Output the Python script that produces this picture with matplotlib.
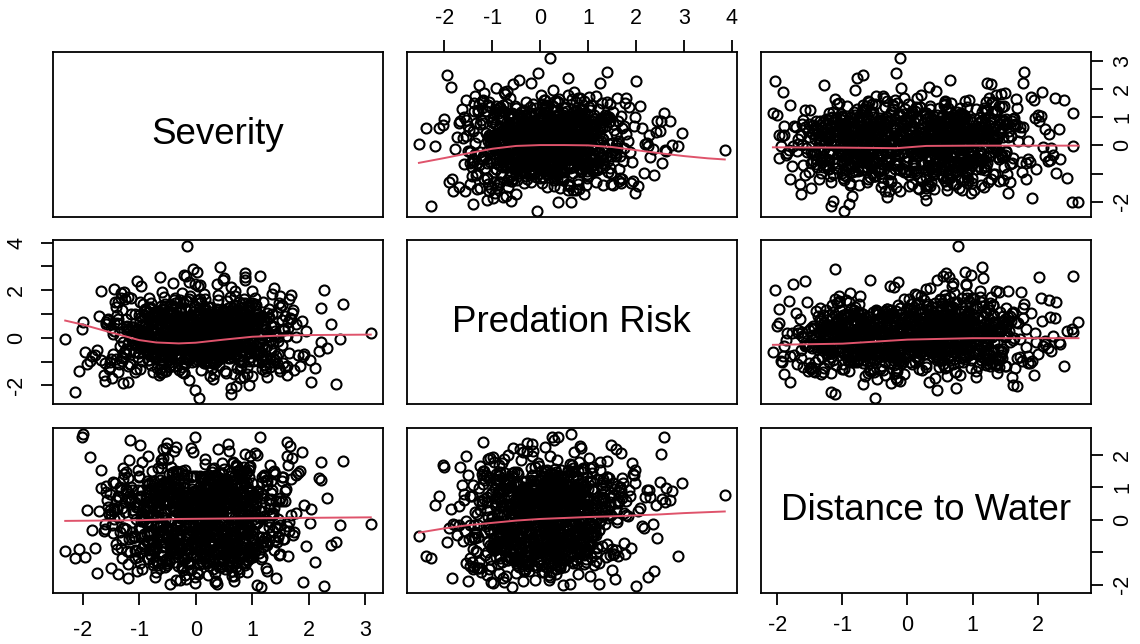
import numpy as np
import matplotlib.pyplot as plt

plt.rcParams['font.family'] = ['Liberation Sans', 'DejaVu Sans']

severity = [
    -0.15, 3.10, -2.31, 0.05, -2.00, -2.02, -0.01, 1.14, 0.42, -0.73, 1.21, 0.08, -0.36, 0.67, -1.12,
    0.25, -0.58, 1.63, 0.91, -0.24, 0.13, -1.45, 0.56, -0.87, 0.34, 1.02, -0.11, -0.62, 0.79, 2.05,
    -0.43, 0.18, -1.03, 0.61, 1.37, -0.29, -0.77, 0.02, 0.48, -1.68, 0.93, -0.05, 0.27, 1.58, -0.51,
    0.71, -0.92, 0.15, -0.34, 1.15, 0.44, -1.21, 0.86, -0.18, 2.33, -0.66, 0.37, -0.08, 1.29, -1.36,
    0.52, -0.47, 0.95, -1.84, 0.21, 0.63, -0.31, 1.71, -0.95, 0.09, 0.38, -0.56, 1.08, -0.14, 0.83,
    -1.07, 0.29, 1.46, -0.69, 0.04, 0.58, -0.26, -1.52, 0.75, 0.16, 1.92, -0.82, 0.47, -0.39, 0.99,
    -0.03, 1.26, -0.61, 0.35, -1.27, 0.68, 0.11, -0.45, 2.21, -0.89, 0.54, -0.16, 0.88, -1.96, 0.23,
    1.41, -0.53, 0.07, -0.98, 0.66, 0.31, -0.21, 1.12, -1.15, 0.45, -0.72, 1.84, 0.01, -0.41, 0.59,
    -1.33, 0.82, 0.19, -0.64, 1.53, -0.12, 0.41, -0.85, 0.97, -0.27, 2.49, -1.58, 0.36, 0.73, -0.49,
    0.12, -0.79, 1.19, 0.55, -0.33, -1.74, 0.87, 0.26, -0.07, 1.67, -1.01, 0.49, -0.55, 0.14, 1.33,
    -0.68, 0.39, -1.19, 0.78, 0.06, -0.37, 1.04, -0.84, 0.62, 2.12, -0.22, 0.32, -1.41, 0.92, -0.09,
    0.46, -1.62, 0.24, 1.49, -0.57, 0.81, -0.19, 0.03, -1.09, 0.69, 1.78, -0.44, 0.17, -0.75, 1.06,
    -0.28, 0.57, -2.14, 0.33, 0.94, -0.63, 1.31, -0.02, 0.51, -0.93, 0.22, 1.62, -0.35, 0.74, -1.24,
    0.85, -0.13, 0.43, -1.49, 1.11, -0.71, 0.28, 2.61, -0.46, 0.64, -0.04, -1.06, 0.89, 0.19, -0.59,
    1.24, -0.38, 0.72, -0.81, 0.11, 1.88, -1.29, 0.53, -0.17, 0.36, -0.97, 1.44, 0.08, -0.52, 0.77,
    -1.71, 0.47, 0.96, -0.25, 0.61, -0.88, 1.17, 0.04, -0.42, 2.27, -0.65, 0.29, -1.13, 0.84, 0.15,
    -0.06, 1.55, -0.74, 0.38, -1.38, 0.71, 0.13, -0.32, 1.03, -0.99, 0.58, 1.96, -0.20, 0.44, -1.57,
    0.93, -0.48, 0.26, -0.67, 1.35, 0.05, -1.18, 0.68, -0.15, 0.42, 1.73, -0.83, 0.20, -0.40, 1.09,
    -0.94, 0.60, -0.23, 1.22, -1.47, 0.34, 0.80, -0.60, 0.10, 2.40, -0.30, 0.65, -1.02, 0.50, -0.12,
    1.50, -0.70, 0.31, -1.88, 0.87, -0.09, 0.55, 1.27, -0.53, 0.18, -0.86, 1.66, -0.36, 0.76, -1.23,
    0.27, -0.44, 1.13, 0.62, -0.96, 0.07, 1.81, -0.27, 0.40, -1.34, 0.90, -0.58, 0.22, 1.39, -0.10,
    -0.78, 0.52, -1.55, 0.98, 0.14, -0.35, 2.03, -0.63, 0.71, -0.05, 1.18, -1.11, 0.37, -0.47, 0.83,
    0.09, -1.26, 0.66, 1.57, -0.21, 0.45, -0.80, 1.00, -1.67, 0.24, 0.57, -0.39, 1.30, -0.02, 0.93,
    -0.55, 2.18, -0.91, 0.35, 0.02, -1.44, 0.74, -0.16, 1.07, 0.48, -0.73, 0.19, 1.61, -1.08, 0.30,
    0.64, -0.24, -1.92, 0.86, 0.12, 1.43, -0.61, 0.39, -0.97, 0.78, 0.01, -0.50, 1.20, -1.30, 0.55,
    -0.13, 0.97, -0.66, 1.74, 0.28, -1.04, 0.50, -0.30, 0.81, 2.22, -0.84, 0.15, -1.60, 0.67, 0.04,
    1.36, -0.42, 0.23, -0.76, 1.05, -1.20, 0.59, -0.07, 0.43, 1.90, -0.54, 0.88, -0.20, -1.39, 0.73,
    -0.33, 0.17, 1.48, -0.87, 0.36, -0.14, 0.95, -1.50, 0.62, 0.06, -0.68, 1.25, -0.01, 0.50, -1.17,
    0.79, -0.59, 0.10, 1.68, -0.25, -1.79, 0.47, 0.91, -0.43, 0.32, 2.55, -0.95, 0.60, -0.18, 1.15,
    -0.71, 0.26, -1.00, 0.84, 0.13, 1.32, -0.49, 0.70, -2.07, 0.40, -0.11, 1.02, -0.62, 0.20, 0.99,
    0.31, -0.45, 0.12, 0.78, -0.22, 0.54, -0.67, 0.05, 0.93, -0.38, 0.27, -0.11, 0.62, -0.84, 0.41,
    -0.06, 0.71, -0.52, 0.19, 1.04, -0.29, 0.47, -0.73, 0.36, 0.09, -0.41, 0.86, -0.17, 0.58, -0.95,
    0.23, -0.33, 0.69, -0.08, 0.44, -0.61, 1.12, 0.02, -0.26, 0.75, -0.49, 0.14, 0.97, -0.14, 0.35,
    -0.79, 0.52, 0.07, -0.36, 0.83, -0.03, 0.29, -0.58, 0.64, 1.21, -0.19, 0.39, -0.88, 0.16, 0.57,
    0.01, -0.47, 0.92, 0.33, -0.12, 0.66, -0.70, 0.21, 0.48, -0.31, 1.08, -0.04, 0.73, -0.55, 0.11,
    0.45, -0.23, 0.80, -0.64, 0.26, 0.03, -0.39, 0.95, -0.10, 0.59, -0.82, 0.37, 0.18, -0.27, 0.68,
    -0.44, 0.13, 1.15, -0.16, 0.50, -0.57, 0.32, 0.87, -0.35, 0.06, 0.61, -0.91, 0.24, 0.42, -0.02,
    0.76, -0.50, 0.17, -0.21, 0.99, 0.38, -0.66, 0.10, 0.55, -0.13, 0.28, 1.02, -0.42, 0.67, -0.07,
    0.34, -0.76, 0.49, 0.08, -0.30, 0.72, -0.48, 0.20, 0.88, -0.18, 0.43, -0.60, 1.18, 0.00, -0.37,
    0.58, -0.09, 0.25, -0.85, 0.63, 0.15, -0.25, 0.82, -0.54, 0.35, 0.04, -0.40, 0.90, -0.68, 0.47,
    -0.20, 0.66, -0.05, 0.40, -0.72, 1.06, 0.12, -0.46, 0.53, 0.22, -0.15, 0.79, -0.33, 0.30, -0.98,
    0.84, 0.07, -0.43, 0.60, -0.11, 0.37, -0.62, 0.96, 0.19, -0.28, 0.70, -0.07, 0.46, -0.50, 1.13,
    -0.24, 0.51, 0.03, -0.69, 0.77, 0.27, -0.34, 0.14, 0.89, -0.44, 0.56, -0.12, 0.33, -0.81, 0.65,
    0.10, -0.56, 0.74, -0.01, 0.42, -0.37, 1.01, 0.21, -0.63, 0.48, -0.19, 0.85, 0.06, -0.30, 0.59,
    -0.71, 0.29, 0.94, -0.24, 0.16, -0.49, 0.68, 0.39, -0.09, 0.81, -0.58, 0.02, 0.53, -0.35, 1.19,
    0.43, -0.14, 0.61, -0.77, 0.25, 0.09, -0.42, 0.72, -0.26, 0.50, 0.98, -0.64, 0.31, -0.05, 0.67,
    -0.39, 0.80, 0.18, -0.53, 0.45, -0.17, 0.91, 0.04, -0.75, 0.36, 0.63, -0.22, 0.12, -0.46, 0.76,
    0.57, -0.32, 0.26, 0.97, -0.60, 0.14, -0.08, 0.70, -0.40, 0.49, -0.89, 0.32, 1.09, -0.18, 0.22,
    -0.03, 0.62, -0.51, 0.38, 0.85, -0.27, 0.07, -0.67, 0.55, 0.19, -0.36, 0.78, -0.13, 0.44, -0.82,
    0.69, -0.21, 0.13, -0.45, 1.05, 0.30, -0.59, 0.47, -0.06, 0.83, -0.31, 0.20, 0.60, -0.74, 0.37,
    0.62, -1.14, 0.27, 1.31, -0.48, 0.85, -0.93, 0.08, 1.56, -0.66, 0.41, -1.37, 0.99, -0.21, 0.53,
    -0.81, 1.18, -0.34, 0.72, -1.52, 0.16, 1.04, -0.59, 0.37, -1.06, 1.43, -0.12, 0.64, -0.88, 0.22,
    1.27, -0.43, 0.91, -1.23, 0.05, 0.76, -0.71, 1.62, -0.26, 0.48, -1.45, 0.33, 1.09, -0.54, -0.02,
    0.58, -0.97, 1.35, -0.18, 0.82, -1.61, 0.29, 1.15, -0.77, 0.12, 0.69, -1.29, 0.44, 1.48, -0.39,
    -0.65, 0.95, -1.08, 0.19, 1.22, -0.31, 0.67, -1.41, 0.51, 1.77, -0.84, 0.03, 0.88, -0.51, 1.11,
    -1.17, 0.36, 0.79, -0.27, 1.39, -0.74, 0.14, 1.02, -1.33, 0.60, -0.09, 1.26, -0.62, 0.43, -1.00,
    0.90, -0.46, 1.53, -0.86, 0.25, 0.71, -1.20, 0.39, 1.19, -0.35, -0.78, 0.97, 0.10, -1.50, 0.63,
    -0.23, 1.08, -0.69, 0.47, -1.11, 1.66, 0.21, -0.42, 0.84, -0.96, 0.31, 1.34, -0.58, 0.07, -1.26,
    1.00, -0.15, 0.55, -1.38, 0.74, 1.21, -0.52, 0.18, -0.91, 1.45, -0.30, 0.66, -1.03, 0.94, 0.28,
    -0.72, 0.40, 1.29, -0.60, 0.13, -1.19, 0.86, 0.46, -0.38, 1.58, -0.80, 0.24, 1.07, -1.47, 0.52,
    0.35, -1.02, 0.83, -0.14, 1.41, -0.67, 0.57, -1.31, 0.20, 0.99, -0.45, 1.69, -0.99, 0.11, 0.73,
    -0.56, 1.24, -0.28, 0.65, -1.58, 0.42, 1.13, -0.83, 0.01, 0.77, -1.14, 0.30, 1.37, -0.37, 0.89,
    -1.09, 0.15, 0.96, -0.49, 1.50, -0.76, 0.26, -1.24, 0.68, 1.16, -0.19, 0.50, -0.94, 1.30, -0.44,
    0.81, -1.34, 0.38, 1.05, -0.63, 0.09, -1.07, 1.44, 0.56, -0.24, 0.92, -1.42, 0.17, 0.70, -0.70,
    1.18, -0.33, -0.89, 0.61, 1.60, -0.53, 0.23, -1.16, 0.87, 0.04, -0.64, 1.25, -1.28, 0.45, 0.98,
    -0.41, 0.74, -1.21, 1.10, 0.32, -0.85, 1.46, -0.10, 0.59, -1.36, 0.80, 0.19, -0.57, 1.38, -0.92,
    0.49, -0.20, 1.20, -1.05, 0.67, -0.40, 0.06, 1.54, -0.75, 0.37, -1.27, 0.93, -0.13, 0.78, -0.60,
    -1.40, 1.02, 0.26, -0.68, 1.33, -0.16, 0.70, -1.12, 0.47, 1.28, -0.87, 0.12, 0.85, -0.47, 1.63,
    0.16, -0.79, 1.07, -0.36, 0.54, -1.53, 0.92, 0.33, -0.60, 1.17, -1.00, 0.44, -0.25, 1.40, -0.82,
    0.72, -1.18, 0.48, 1.36, -0.43, 0.02, -0.95, 1.00, -0.17, 0.61, -1.30, 1.52, 0.29, -0.69, 0.84,
]

predation = [
    3.85, 0.21, -0.06, -2.53, 0.64, 0.37, 0.25, 2.59, -0.48, 0.92, -1.13, 0.31, 1.47, -0.72, 0.05,
    -0.29, 1.18, 0.66, -1.54, 0.12, -0.83, 2.04, 0.47, -0.15, -1.02, 0.78, 1.61, -0.41, 0.23, -1.87,
    0.95, -0.61, 0.38, 1.29, -0.22, -1.36, 0.71, 0.08, 2.41, -0.94, 0.54, -0.35, 1.06, -1.21, 0.17,
    -0.68, 0.43, 1.83, -0.11, -0.86, 0.61, 0.29, -1.67, 1.15, -0.44, 0.02, 2.27, -0.57, 0.84, -1.09,
    0.36, -0.25, 1.39, -0.78, 0.19, -2.11, 0.67, 1.02, -0.39, 0.14, -0.97, 1.73, 0.48, -0.63, 0.27,
    -1.42, 0.89, 0.04, -0.52, 2.18, -0.18, 0.56, -1.25, 0.33, 1.26, -0.70, 0.11, -0.05, 1.58, -1.60,
    0.73, -0.33, 0.46, -1.06, 1.94, 0.15, -0.81, 0.62, -0.20, 1.11, -1.48, 0.39, 2.53, -0.60, 0.07,
    -0.92, 1.32, 0.26, -0.45, 0.81, -1.74, 0.50, -0.12, 1.67, -0.67, 0.20, -1.17, 0.98, 0.35, -0.27,
    1.89, -0.55, 0.10, -1.32, 0.74, 2.36, -0.88, 0.44, -0.03, 1.21, -1.95, 0.58, -0.36, 0.90, -0.76,
    0.30, -1.15, 1.52, -0.24, 0.67, -0.50, 2.71, -1.01, 0.16, 0.83, -0.64, 1.08, -1.38, 0.42, -0.09,
    -0.47, 0.99, -1.84, 0.28, 1.44, -0.71, 0.55, -0.17, 2.12, -1.27, 0.06, 0.69, -0.90, 1.35, -0.32,
    0.52, -1.56, 0.18, 1.77, -0.42, 0.87, -1.11, 0.24, -0.60, 1.96, 0.01, -0.80, 0.63, -1.43, 1.13,
    -0.14, 0.76, -2.27, 0.40, 1.25, -0.53, 0.09, -0.99, 2.49, -0.31, 0.60, -1.20, 0.94, 0.13, -0.70,
    1.62, -0.38, 0.32, -1.70, 0.85, 0.04, -0.58, 1.40, -1.04, 0.51, 2.87, -0.21, 0.22, -0.83, 1.00,
    -1.29, 0.45, -0.10, 1.19, -0.66, 0.70, -1.90, 0.34, 1.55, -0.46, 0.12, -1.08, 2.22, -0.26, 0.59,
    0.92, -0.74, 0.20, -1.46, 1.71, -0.37, 0.48, -0.95, 0.15, 2.00, -1.58, 0.66, -0.08, 1.30, -0.52,
    -1.00, 0.38, 1.08, -0.30, 0.79, -2.03, 0.53, 0.01, -0.62, 1.48, -0.87, 0.27, 2.62, -0.44, 0.74,
    0.07, -1.22, 0.96, -0.16, 1.85, -0.78, 0.35, -1.51, 0.61, -0.05, 1.17, -0.92, 0.44, 2.30, -0.68,
    0.25, -0.40, 1.50, -1.13, 0.14, 0.82, -0.56, 1.91, -1.35, 0.57, -0.19, 1.03, -0.82, 0.30, -1.78,
    1.28, -0.07, 0.64, -0.98, 2.43, -0.28, 0.41, -1.64, 0.86, 0.11, -0.49, 1.61, -1.19, 0.23, 0.78,
    -0.61, 1.10, -0.20, -2.38, 0.50, 0.97, -0.73, 0.18, 1.79, -0.34, 0.62, -1.05, 0.03, 2.09, -0.89,
    0.37, -1.40, 0.80, 1.36, -0.51, 0.09, -0.93, 2.55, -0.23, 0.68, -1.30, 0.47, 1.22, -0.64, 0.16,
    -0.11, 1.64, -0.79, 0.31, -1.47, 0.93, 0.05, -0.42, 1.98, -1.03, 0.55, -0.15, 0.87, -2.19, 0.40,
    1.42, -0.57, 0.12, -0.85, 2.75, 0.28, -1.26, 0.72, -0.33, 1.16, -0.69, 0.46, -1.55, 0.99, 0.06,
    -0.43, 1.87, -1.12, 0.58, 0.21, -0.77, 1.33, -0.02, 2.16, -1.69, 0.39, -0.28, 0.75, -0.96, 1.54,
    0.17, -0.65, 0.90, -1.37, 0.43, 2.38, -0.12, 0.63, -1.00, 1.25, -0.54, 0.10, -1.81, 0.81, 0.32,
    -0.84, 1.07, 0.26, -0.48, 1.68, -1.17, 0.52, -0.25, 2.95, -0.75, 0.38, 0.00, -1.50, 0.95, -0.36,
    0.69, -1.08, 1.46, 0.13, -0.60, 0.84, -2.00, 0.42, 1.12, -0.30, 0.57, -0.91, 2.24, -0.13, 0.29,
    -1.33, 0.74, -0.45, 1.80, 0.08, -0.72, 0.49, -1.23, 1.37, 0.19, -0.04, -0.97, 0.66, 2.60, -0.58,
    0.35, -1.61, 0.97, -0.18, 1.23, -0.86, 0.60, 0.03, -1.41, 1.59, -0.35, 0.78, -1.10, 0.24, 1.97,
    -0.35, 0.62, 0.08, -0.71, 0.43, -0.19, 0.95, -0.48, 0.27, 0.71, -0.06, -0.88, 0.36, 0.14, -0.52,
    0.84, -0.27, 0.51, -0.03, -0.63, 1.12, 0.20, -0.40, 0.66, -0.95, 0.09, 0.47, -0.16, 0.78, -0.33,
    0.15, -0.80, 0.58, 0.32, -0.22, 1.03, -0.57, 0.04, 0.73, -0.37, 0.41, -1.05, 0.25, -0.11, 0.89,
    -0.46, 0.18, 0.67, -0.29, 0.96, -0.68, 0.35, 0.00, -0.50, 0.55, 1.22, -0.14, 0.28, -0.82, 0.44,
    0.11, 0.74, -0.41, 0.21, -0.90, 0.59, -0.07, 0.86, -0.30, 0.38, -0.60, 1.07, 0.02, -0.23, 0.65,
    -0.74, 0.30, -0.12, 0.81, 0.06, -0.54, 0.49, -0.25, 1.15, -0.44, 0.16, 0.68, -0.97, 0.40, -0.08,
    0.53, -0.36, 0.92, 0.13, -0.66, 0.26, -0.18, 0.77, -0.49, 0.07, 0.61, -0.31, 1.00, -0.59, 0.22,
    -0.15, 0.46, -0.85, 0.70, 0.03, -0.42, 0.87, 0.19, -0.26, 0.57, -0.70, 0.33, -0.04, 1.09, -0.38,
    0.37, -0.58, 0.14, 0.99, -0.20, 0.50, -0.93, 0.24, 0.64, -0.10, -0.47, 0.82, 0.10, -0.65, 0.45,
    -0.28, 0.72, 0.05, -0.53, 0.31, 1.18, -0.34, 0.17, -0.78, 0.60, 0.42, -0.13, 0.90, -0.45, 0.01,
    0.63, -0.09, -0.67, 0.40, 0.18, -0.30, 0.83, -0.55, 0.28, 0.96, -0.20, 0.52, -0.87, 0.12, 0.69,
    -0.50, 0.23, 1.05, -0.17, 0.45, -0.75, 0.09, 0.57, -0.39, 0.76, 0.00, -0.62, 0.34, 1.13, -0.24,
    0.20, -0.44, 0.61, -0.07, -0.92, 0.39, 0.86, -0.32, 0.15, 0.54, -0.69, 0.27, -0.14, 0.80, -0.51,
    0.48, 0.02, -0.36, 0.93, -0.61, 0.29, -0.19, 0.70, 0.11, -0.83, 0.44, 1.01, -0.27, 0.16, -0.04,
    -0.62, 0.35, 0.79, -0.40, 0.06, 0.58, -0.11, -0.73, 0.97, 0.21, -0.29, 0.50, -0.57, 0.66, 0.13,
    0.88, -0.21, 0.32, -0.64, 0.47, 0.07, -0.46, 1.16, -0.08, 0.38, -0.80, 0.60, 0.19, -0.35, 0.74,
    -0.12, 0.55, -0.52, 0.24, 0.91, -0.26, 0.15, -0.71, 0.65, 0.04, -0.40, 0.85, -0.02, 0.31, -0.95,
    0.42, -0.66, 0.12, 0.75, -0.33, 1.02, -0.13, 0.30, -0.55, 0.59, 0.08, -0.24, 0.71, -0.79, 0.26,
    -0.06, 0.97, -0.43, 0.17, 0.52, -0.88, 0.36, -0.16, 0.81, -0.50, 0.23, 0.63, -0.30, 0.10, 1.10,
    0.55, -0.37, 0.04, -0.69, 0.84, 0.20, -0.09, 0.46, -0.60, 0.33, 0.77, -0.19, -0.86, 0.67, 0.14,
    -0.52, 0.98, 0.19, -1.21, 0.67, -0.34, 1.42, -0.85, 0.36, 1.10, -0.08, -1.46, 0.55, 0.23, -0.71,
    1.29, -0.41, 0.79, -0.02, -1.03, 1.63, 0.31, -0.63, 0.96, -1.33, 0.12, 0.72, -0.24, 1.17, -0.50,
    0.22, -1.16, 0.88, 0.47, -0.33, 1.51, -0.86, 0.07, 1.08, -0.55, 0.60, -1.54, 0.39, -0.17, 1.33,
    -0.70, 0.27, 1.01, -0.44, 1.44, -1.06, 0.52, 0.00, -0.77, 0.83, 1.74, -0.20, 0.42, -1.27, 0.66,
    0.16, 1.13, -0.62, 0.32, -1.39, 0.89, -0.10, 1.30, -0.46, 0.57, -0.92, 1.58, 0.04, -0.35, 0.98,
    -1.11, 0.45, -0.18, 1.22, 0.09, -0.82, 0.74, -0.38, 1.68, -0.67, 0.24, 1.03, -1.47, 0.61, -0.12,
    0.80, -0.54, 1.39, 0.20, -1.00, 0.39, -0.27, 1.16, -0.74, 0.11, 0.92, -0.47, 1.49, -0.90, 0.33,
    -0.23, 0.70, -1.28, 1.06, 0.05, -0.64, 1.31, 0.28, -0.39, 0.86, -1.06, 0.50, -0.06, 1.61, -0.58,
    0.56, -0.88, 0.21, 1.48, -0.30, 0.76, -1.40, 0.36, 0.97, -0.15, -0.71, 1.23, 0.15, -0.98, 0.68,
    -0.42, 1.09, 0.08, -0.80, 0.47, 1.71, -0.51, 0.26, -1.18, 0.91, 0.63, -0.20, 1.36, -0.68, 0.02,
    0.95, -0.14, -1.01, 0.60, 0.27, -0.45, 1.25, -0.83, 0.42, 1.44, -0.30, 0.79, -1.31, 0.18, 1.04,
    -0.75, 0.35, 1.57, -0.26, 0.68, -1.13, 0.14, 0.86, -0.59, 1.14, 0.00, -0.93, 0.51, 1.66, -0.36,
    0.30, -0.66, 0.92, -0.11, -1.38, 0.59, 1.29, -0.48, 0.23, 0.81, -1.04, 0.41, -0.21, 1.20, -0.77,
    0.72, 0.03, -0.54, 1.40, -0.92, 0.44, -0.29, 1.05, 0.17, -1.25, 0.66, 1.52, -0.41, 0.24, -0.06,
    -0.93, 0.53, 1.19, -0.60, 0.09, 0.87, -0.17, -1.10, 1.46, 0.32, -0.44, 0.75, -0.86, 0.99, 0.20,
    1.32, -0.32, 0.48, -0.96, 0.71, 0.11, -0.69, 1.75, -0.12, 0.57, -1.20, 0.90, 0.29, -0.53, 1.11,
    -0.18, 0.83, -0.78, 0.36, 1.37, -0.39, 0.23, -1.07, 0.98, 0.06, -0.60, 1.28, -0.03, 0.47, -1.43,
    0.63, -0.99, 0.18, 1.13, -0.50, 1.54, -0.20, 0.45, -0.83, 0.89, 0.12, -0.36, 1.07, -1.19, 0.39,
    -0.09, 1.46, -0.65, 0.26, 0.78, -1.32, 0.54, -0.24, 1.22, -0.75, 0.35, 0.95, -0.45, 0.15, 1.65,
    0.83, -0.56, 0.06, -1.04, 1.26, 0.30, -0.14, 0.69, -0.90, 0.50, 1.16, -0.29, -1.29, 1.00, 0.21,
]

distance = [
    0.77, -0.12, -0.98, -0.50, 2.63, 2.53, 2.54, 2.55, -1.21, 0.64, 1.38, -0.37, 0.15, -1.74, 0.92,
    0.41, -0.83, 1.67, -0.05, -1.46, 0.86, 0.28, -0.66, 1.19, -1.93, 0.52, 0.03, 1.83, -0.91, 0.33,
    -0.28, 1.04, -1.15, 0.70, 0.19, -0.58, 1.49, -1.62, 0.46, 0.97, -0.19, 2.08, -0.76, 0.58, -1.33,
    1.26, -0.43, 0.11, -1.87, 0.83, 0.37, -0.97, 1.61, -0.25, 0.66, -1.40, 0.90, 2.21, -0.64, 0.07,
    -1.08, 0.49, 1.31, -0.31, -1.69, 0.74, 0.22, 1.90, -0.86, 0.55, -0.13, 1.12, -2.01, 0.38, 0.81,
    -0.52, 1.55, 0.01, -1.26, 0.68, 2.33, -0.71, 0.29, -1.52, 1.07, 0.44, -0.36, 1.73, -0.95, 0.60,
    0.16, -1.58, 0.95, -0.09, 1.41, -0.80, 0.53, -1.98, 1.22, 0.31, -0.60, 0.85, 2.02, -1.14, 0.42,
    -0.22, 1.15, -1.36, 0.62, 1.78, -0.47, 0.09, -1.03, 0.99, 0.25, -1.77, 1.50, -0.33, 0.71, 2.12,
    -0.88, 0.35, 1.33, -1.49, 0.57, -0.15, 0.88, -1.22, 1.64, 0.06, -0.69, 1.02, -1.90, 0.47, 1.86,
    0.24, -1.10, 0.76, -0.40, 1.45, -1.64, 0.59, 0.12, -0.82, 2.27, -0.27, 0.93, -1.45, 0.40, 1.18,
    -0.56, 0.69, -1.81, 1.28, 0.17, -0.93, 0.80, 1.97, -0.20, -1.29, 0.51, 1.59, -0.74, 0.30, -1.56,
    1.09, -0.35, 0.63, -1.05, 2.16, 0.04, -1.70, 0.87, -0.50, 1.36, 0.21, -0.84, 1.70, -1.30, 0.45,
    -0.07, 0.98, -1.18, 0.56, 1.52, -0.62, 0.14, -1.95, 1.16, 0.37, -0.45, 2.40, -0.99, 0.73, -0.30,
    0.50, -1.38, 1.24, -0.17, 0.84, -1.60, 0.20, 1.79, -0.78, 0.61, -1.12, 0.02, 1.43, -0.54, 0.94,
    -1.50, 0.33, 1.63, -0.87, 0.48, 2.07, -0.26, 0.75, -1.82, 1.10, 0.13, -0.68, 0.90, -1.24, 1.53,
    0.27, -0.73, 1.96, -1.42, 0.65, -0.11, 1.30, -0.92, 0.43, -2.04, 0.80, 1.47, -0.39, 0.10, -1.17,
    0.86, -0.59, 1.20, 0.36, -1.66, 1.69, -0.24, 0.54, -1.01, 2.29, 0.18, -0.80, 0.97, -1.47, 0.60,
    -0.34, 1.40, -1.20, 0.08, 0.91, -0.65, 1.82, -1.90, 0.52, 0.26, -0.48, 1.13, -1.33, 0.70, 2.00,
    -0.02, 0.78, -1.55, 1.35, -0.41, 0.60, -1.06, 1.74, 0.23, -0.77, 0.96, -1.72, 0.39, 1.56, -0.16,
    0.67, -1.27, 0.44, 1.92, -0.57, 0.14, -1.44, 1.05, 2.19, -0.90, 0.32, -0.06, 1.27, -1.62, 0.82,
    -0.70, 1.62, 0.05, -1.12, 0.73, -0.29, 1.44, -1.85, 0.58, 0.99, -0.44, 1.88, -0.96, 0.35, -0.14,
    1.17, -1.53, 0.40, 0.89, -0.67, 2.24, -0.10, 0.64, -1.35, 1.34, -0.53, 0.20, -1.97, 1.01, 0.48,
    -0.85, 0.57, 1.73, -0.32, -1.18, 0.94, 0.10, -0.61, 1.54, -1.43, 0.79, 2.11, -0.23, 0.46, -1.04,
    0.31, 1.28, -0.76, -1.64, 0.88, 0.02, 1.66, -0.46, 0.55, -1.26, 1.08, -0.08, 1.95, -0.94, 0.18,
    -1.31, 0.72, 0.29, 1.48, -0.55, -1.80, 0.66, 1.21, -0.27, 0.42, -1.08, 2.35, 0.07, -0.63, 0.95,
    0.13, -0.98, 1.58, -0.38, 0.76, -1.57, 1.00, 0.24, -0.82, 1.77, -1.20, 0.51, -0.12, 0.85, -1.68,
    1.46, -0.47, 0.34, -1.39, 2.06, 0.63, -0.70, 0.17, 1.14, -1.92, 0.49, -0.31, 1.37, -0.89, 0.74,
    -0.19, 1.85, -1.09, 0.53, 0.12, -0.74, 1.62, -1.49, 0.88, 0.30, -0.58, 1.23, -1.76, 0.41, 2.45,
    -0.42, 0.92, -1.28, 0.15, 1.51, -0.86, 0.62, -1.61, 1.06, 0.36, -0.17, 1.76, -1.03, 0.55, -2.07,
    0.83, -0.66, 1.31, 0.00, -1.34, 1.68, -0.51, 0.44, -0.90, 2.18, 0.23, -1.16, 0.70, -0.37, 1.12,
    0.12, -0.83, 0.69, -0.36, 1.27, -1.09, 0.44, -0.05, 0.91, -0.64, 0.23, -1.38, 1.06, -0.19, 0.58,
    -0.71, 0.35, -1.20, 0.80, 0.03, -0.47, 1.41, -0.92, 0.27, 0.66, -0.28, 1.13, -0.60, 0.49, -1.52,
    0.95, -0.14, 0.52, -1.03, 0.74, 1.60, -0.55, 0.18, -0.86, 0.41, -0.32, 1.23, -1.17, 0.63, 0.06,
    -0.40, 1.03, -0.78, 0.30, -1.30, 0.87, -0.09, 0.56, -0.66, 1.35, 0.20, -0.99, 0.75, -0.24, 1.00,
    0.47, -1.24, 0.16, 0.84, -0.51, 1.18, -0.88, 0.38, -0.02, -1.44, 0.70, -0.37, 1.50, -0.70, 0.25,
    -0.96, 0.60, 1.09, -0.21, 0.40, -0.74, 0.97, -1.12, 0.09, 0.78, -0.45, 1.32, -0.58, 0.14, -1.06,
    0.83, -0.30, 0.28, -0.93, 1.21, -0.16, 0.62, -1.35, 0.50, -0.07, 0.89, -0.80, 0.33, 1.44, -0.49,
    -0.62, 1.16, -0.04, 0.45, -1.00, 0.72, -0.39, 1.29, -0.85, 0.22, -1.23, 0.64, 0.01, -0.53, 0.93,
    1.37, -0.69, 0.19, -0.26, 0.81, -1.46, 0.55, 1.00, -0.12, -0.77, 0.36, -1.01, 1.15, -0.43, 0.67,
    -0.18, 0.76, -0.95, 0.42, -0.60, 1.26, 0.07, -1.15, 0.88, -0.33, 0.53, -0.73, 1.47, 0.11, -0.87,
    0.57, -0.48, 1.05, -1.27, 0.32, -0.11, 0.79, -0.67, 1.20, -0.92, 0.46, 0.00, -0.56, 0.98, -1.33,
    -0.29, 0.90, -0.72, 1.33, -0.41, 0.15, -1.08, 0.71, -0.20, 1.11, -0.84, 0.37, 0.65, -1.41, 0.27,
    0.73, -1.05, 0.40, -0.15, 1.40, -0.63, 0.86, -0.35, 0.04, -0.98, 1.24, -0.52, 0.59, -0.08, -1.19,
    -0.55, 0.21, 1.17, -0.81, 0.48, -1.30, 0.69, -0.01, 0.96, -0.44, 1.52, -0.68, 0.30, -0.90, 0.82,
    0.10, -0.75, 0.64, -1.21, 1.02, -0.27, 0.39, -0.61, 1.31, -0.10, -1.13, 0.77, -0.46, 0.54, -0.83,
    1.08, -0.37, 0.24, -0.91, 0.60, -0.06, 1.39, -1.04, 0.51, -0.64, 0.13, 0.92, -1.26, 0.43, -0.22,
    -0.67, 0.85, -0.13, 0.55, -1.37, 0.31, 1.14, -0.50, 0.75, -0.89, 0.18, -0.31, 1.26, -0.76, 0.45,
    0.36, -1.16, 0.99, -0.42, 0.08, -0.82, 0.68, -0.23, 1.45, -0.57, 0.29, -1.00, 0.87, -0.16, 0.61,
    -0.89, 0.47, -0.54, 1.23, -0.03, 0.71, -1.18, 0.26, -0.38, 1.07, -0.71, 0.58, -1.29, 0.19, 0.94,
    0.65, -0.26, 1.30, -0.65, 0.34, -0.97, 0.80, -0.44, 0.05, 1.19, -1.07, 0.50, -0.19, 0.89, -0.58,
    -0.92, 0.61, -0.15, 0.48, -1.28, 0.83, 0.05, 1.35, -0.60, 0.22, -1.45, 0.74, -0.33, 1.12, -0.81,
    0.38, -0.70, 1.50, -0.06, 0.79, -1.12, 0.27, -0.47, 1.03, -0.98, 0.56, 0.10, -1.57, 0.67, -0.24,
    -0.77, 1.21, -0.40, 0.93, 0.14, -1.05, 0.63, -0.19, 1.42, -0.66, 0.35, -1.33, 0.86, -0.02, 0.51,
    1.08, -0.54, 0.20, -0.88, 1.27, -0.29, 0.72, -1.20, 0.44, 0.01, -0.73, 1.58, -0.12, 0.58, -1.02,
    -0.37, 0.87, -1.19, 0.31, -0.58, 1.16, -0.95, 0.60, -0.08, 1.36, -0.68, 0.25, -1.40, 0.97, 0.09,
    0.55, -1.07, 0.76, -0.31, 1.49, -0.85, 0.18, -0.53, 0.91, -1.24, 0.42, 1.19, -0.17, -0.72, 0.69,
    -1.01, 0.33, 1.31, -0.44, 0.04, 0.78, -1.36, 0.52, -0.26, 1.10, -0.62, 0.88, -0.90, 0.16, 1.45,
    0.46, -0.81, 0.97, -1.15, 0.29, -0.36, 1.24, -0.70, 0.65, -0.03, -1.52, 0.81, -0.49, 1.02, 0.23,
    -0.64, 1.38, -0.21, 0.71, -0.96, 0.12, 1.05, -1.27, 0.40, -0.55, 0.94, -0.11, 1.53, -0.83, 0.57,
    0.80, -0.46, 0.34, -1.31, 0.64, 1.29, -0.75, 0.07, -0.39, 0.89, -1.09, 0.48, -0.14, 1.17, -0.59,
    -0.27, 0.92, -0.87, 0.19, 1.40, -0.51, 0.62, -1.18, 0.03, 0.75, -0.63, 1.26, -1.00, 0.37, -0.09,
    1.15, -0.68, 0.50, -1.42, 0.84, -0.20, 0.28, -0.94, 1.33, -0.35, 0.66, -0.78, 0.13, 1.01, -1.23,
    -0.52, 0.73, -1.10, 1.08, -0.16, 0.45, -0.80, 1.47, -0.42, 0.26, -1.21, 0.82, -0.05, 0.59, -0.91,
    0.99, -0.38, 0.15, -0.74, 1.22, -1.03, 0.54, -0.23, 0.77, -1.48, 0.36, 1.13, -0.61, 0.08, -0.86,
    -1.14, 0.68, 0.02, -0.57, 0.95, -0.30, 1.37, -0.99, 0.43, -0.13, 0.85, -0.69, 1.24, -0.45, 0.30,
    0.60, -1.26, 0.87, -0.07, -0.79, 1.06, -0.50, 0.21, -1.39, 0.70, 1.51, -0.34, 0.47, -0.93, 0.11,
    -0.45, 1.00, -0.65, 0.39, -1.16, 0.81, 0.06, 1.30, -0.76, 0.52, -0.25, 0.96, -1.30, 0.24, 0.73,
    0.32, -0.89, 1.18, -0.18, 0.62, -1.06, 0.41, -0.57, 1.43, -0.04, -0.70, 0.90, -0.37, 1.09, -1.11,
    -0.82, 0.53, -0.11, 1.25, -0.48, 0.17, -1.25, 0.79, -0.31, 0.66, 1.34, -0.97, 0.26, -0.64, 0.84,
    0.71, -0.60, 1.12, -0.35, 0.00, -1.13, 0.92, -0.71, 0.49, -1.01, 0.36, 1.20, -0.16, 0.58, -0.42,
]

names = ['Severity', 'Predation Risk', 'Distance to Water']

# smoother through each scatter: (x knots, fitted y)
sm_pred_sev_x = [-2.53, -2.0, -1.5, -1.0, -0.5, 0.0, 0.5, 1.0, 1.5, 2.0, 2.5, 3.0, 3.5, 3.85]
sm_pred_sev_y = [-0.62, -0.45, -0.28, -0.12, -0.02, 0.01, 0.01, 0.00, -0.06, -0.17, -0.28, -0.38, -0.46, -0.50]
sm_dist_sev_x = [-2.07, -1.00, -0.17, 0.29, 1.00, 2.63]
sm_dist_sev_y = [-0.07, -0.08, -0.10, -0.02, -0.01, -0.01]
sm_sev_pred_x = [-2.31, -2.0, -1.5, -1.0, -0.7, -0.3, 0.0, 0.5, 1.0, 1.5, 2.0, 2.5, 3.1]
sm_sev_pred_y = [0.72, 0.55, 0.22, -0.10, -0.20, -0.24, -0.21, -0.08, 0.04, 0.09, 0.11, 0.12, 0.13]
sm_dist_pred_x = [-2.07, -1.00, 0.00, 1.00, 2.63]
sm_dist_pred_y = [-0.30, -0.25, -0.08, -0.02, -0.02]
sm_sev_dist_x = [-2.31, -1.00, -0.30, 1.00, 3.10]
sm_sev_dist_y = [-0.04, -0.02, 0.02, 0.04, 0.07]
sm_pred_dist_x = [-2.53, -2.0, -1.5, -1.0, -0.5, 0.0, 0.5, 1.0, 1.5, 2.0, 2.5, 3.0, 3.85]
sm_pred_dist_y = [-0.40, -0.27, -0.17, -0.10, -0.03, 0.02, 0.05, 0.08, 0.10, 0.13, 0.16, 0.20, 0.25]

sev_ticks = [-2, -1, 0, 1, 2, 3]
sev_labels = ['-2', '', '0', '1', '2', '3']
sev_labels_x = ['-2', '-1', '0', '1', '2', '3']
pred_ticks = [-2, -1, 0, 1, 2, 3, 4]
pred_labels = ['-2', '', '0', '', '2', '', '4']
pred_labels_x = ['-2', '-1', '0', '1', '2', '3', '4']
dist_ticks = [-2, -1, 0, 1, 2]
dist_labels = ['-2', '', '0', '1', '2']
dist_labels_x = ['-2', '-1', '0', '1', '2']

n = min(len(severity), len(predation), len(distance))
data = [np.array(severity[:n]), np.array(predation[:n]), np.array(distance[:n])]

smooth = {
    (0, 1): (sm_pred_sev_x, sm_pred_sev_y),
    (0, 2): (sm_dist_sev_x, sm_dist_sev_y),
    (1, 0): (sm_sev_pred_x, sm_sev_pred_y),
    (1, 2): (sm_dist_pred_x, sm_dist_pred_y),
    (2, 0): (sm_sev_dist_x, sm_sev_dist_y),
    (2, 1): (sm_pred_dist_x, sm_pred_dist_y),
}


def lims(v):
    r = v.max() - v.min()
    return v.min() - 0.04 * r, v.max() + 0.04 * r


W, H = 1140, 644
cols_px = [(53, 383), (406.7, 737), (760.7, 1090.7)]
rows_px = [(51.7, 216.7), (240, 404), (428, 593)]

fig = plt.figure(figsize=(W / 100, H / 100), dpi=100)

for i in range(3):
    for j in range(3):
        x0, x1 = cols_px[j]
        y0, y1 = rows_px[i]
        ax = fig.add_axes([x0 / W, 1 - y1 / H, (x1 - x0) / W, (y1 - y0) / H])
        ax.set_xlim(lims(data[j]))
        ax.set_ylim(lims(data[i]))
        for s in ax.spines.values():
            s.set_linewidth(1.3)
        ax.tick_params(direction='out', length=8.5, width=1.3, labelsize=15.5,
                       bottom=False, left=False, labelbottom=False, labelleft=False)

        if i == j:
            ax.text(0.5, 0.5, names[i], transform=ax.transAxes, ha='center', va='center',
                    fontsize=26.5)
        else:
            ax.plot(data[j], data[i], 'o', mfc='none', mec='black', ms=7.2, mew=1.5)
            sx, sy = smooth[(i, j)]
            ax.plot(sx, sy, color='#DF536B', lw=1.4)

        # alternating outer axes, as in a scatterplot matrix
        if i == 0 and j == 1:
            ax.set_xticks(pred_ticks, pred_labels_x)
            ax.tick_params(top=True, labeltop=True, pad=8)
        if i == 2 and j == 0:
            ax.set_xticks(sev_ticks, sev_labels_x)
            ax.tick_params(bottom=True, labelbottom=True, pad=11)
        if i == 2 and j == 2:
            ax.set_xticks(dist_ticks, dist_labels_x)
            ax.tick_params(bottom=True, labelbottom=True, pad=11)
        if i == 1 and j == 0:
            ax.set_yticks(pred_ticks, pred_labels, rotation=90, va='center')
            ax.tick_params(left=True, labelleft=True, pad=10)
        if i == 0 and j == 2:
            ax.set_yticks(sev_ticks, sev_labels, rotation=90, va='center')
            ax.tick_params(right=True, labelright=True, pad=7)
        if i == 2 and j == 2:
            ax.set_yticks(dist_ticks, dist_labels, rotation=90, va='center')
            ax.tick_params(right=True, labelright=True, pad=7)
        if not ((i == 0 and j == 1) or (i == 2 and j in (0, 2))):
            ax.set_xticks([])
        if not ((i == 1 and j == 0) or (j == 2 and i in (0, 2))):
            ax.set_yticks([])

fig.savefig('out.png', dpi=100, facecolor='white')
